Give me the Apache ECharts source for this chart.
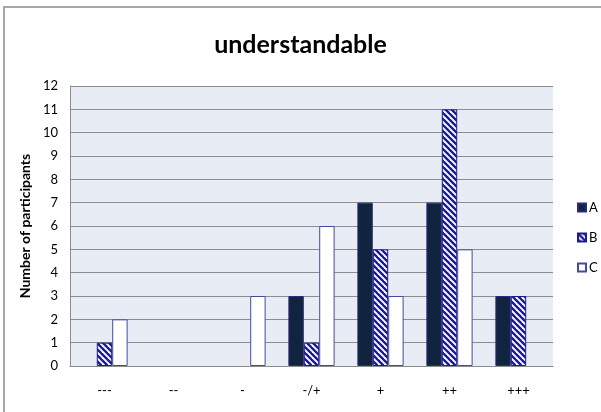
<!DOCTYPE html>
<html>
<head>
<meta charset="utf-8">
<script src="https://cdn.jsdelivr.net/npm/echarts@6/dist/echarts.min.js"></script>
<style>
  html, body { margin: 0; padding: 0; background: #fff; }
  #chart { width: 601px; height: 412px; }
</style>
</head>
<body>
<div id="chart"></div>
<script>
// Ratings on a seven-point scale and the number of participants per group
const categories = ['---', '--', '-', '-/+', '+', '++', '+++'];
const seriesA = [0, 0, 0, 3, 7, 7, 3];
const seriesB = [1, 0, 0, 1, 5, 11, 3];
const seriesC = [2, 0, 3, 6, 3, 5, 0];
const yTicks = [0, 1, 2, 3, 4, 5, 6, 7, 8, 9, 10, 11, 12];

// Diagonal navy/white hatch used for group B
function hatch() {
  const s = 6;
  const c = document.createElement('canvas');
  c.width = s; c.height = s;
  const g = c.getContext('2d');
  g.fillStyle = '#ffffff';
  g.fillRect(0, 0, s, s);
  g.strokeStyle = '#1c1c8e';
  g.lineWidth = 2.4;
  for (const off of [-s, 0, s]) {
    g.beginPath();
    g.moveTo(off - 1, -1);
    g.lineTo(off + s + 1, s + 1);
    g.stroke();
  }
  return { image: c, repeat: 'repeat' };
}

// Zero counts are drawn as no bar at all (no border sliver on the axis)
function toBars(values) {
  return values.map(v => v === 0 ? { value: 0, itemStyle: { borderWidth: 0, opacity: 0 } } : v);
}

const font = 'Lato, "Open Sans", sans-serif';
const chart = echarts.init(document.getElementById('chart'), null, { renderer: 'canvas' });

chart.setOption({
  animation: false,
  backgroundColor: '#ffffff',
  textStyle: { fontFamily: font, color: '#000' },
  title: {
    text: 'understandable',
    left: 'center',
    top: 27,
    textStyle: { fontFamily: font, fontSize: 25, fontWeight: 'bold', color: '#000' }
  },
  // Chart frame; its right and bottom edges run past the page
  graphic: [{
    type: 'rect',
    shape: { x: 4, y: 7, width: 640, height: 440 },
    style: { fill: 'none', stroke: '#a6a6a6', lineWidth: 2 },
    silent: true
  }],
  legend: {
    orient: 'vertical',
    left: 572,
    top: 196,
    itemWidth: 8,
    itemHeight: 8,
    itemGap: 17,
    icon: 'rect',
    textStyle: { fontFamily: font, fontSize: 13, color: '#000', padding: [0, 0, 0, -2] },
    data: ['A', 'B', 'C']
  },
  grid: {
    left: 70, right: 48, top: 86, bottom: 46,
    outerBoundsMode: 'none',
    containLabel: false,
    show: true,
    backgroundColor: '#e8ecf4',
    borderWidth: 0
  },
  xAxis: {
    type: 'category',
    data: categories,
    axisTick: { show: false },
    axisLine: { lineStyle: { color: '#8c8c8c' } },
    axisLabel: { fontFamily: font, fontSize: 13, color: '#000', margin: 18 }
  },
  yAxis: {
    type: 'value',
    min: yTicks[0],
    max: yTicks[yTicks.length - 1],
    interval: 1,
    name: 'Number of participants',
    nameLocation: 'middle',
    nameGap: 33,
    nameTextStyle: { fontFamily: font, fontSize: 14, fontWeight: 'bold', color: '#000' },
    axisLine: { show: true, lineStyle: { color: '#8c8c8c' } },
    axisTick: { show: false },
    splitLine: { lineStyle: { color: '#8c8c8c', width: 1 } },
    axisLabel: { fontFamily: font, fontSize: 13, color: '#000', margin: 12 }
  },
  series: [
    {
      name: 'A', type: 'bar', data: toBars(seriesA),
      barCategoryGap: '33%', barGap: '0%',
      itemStyle: { color: '#10233f', borderColor: '#2b2b7e', borderWidth: 1 }
    },
    {
      name: 'B', type: 'bar', data: toBars(seriesB),
      barCategoryGap: '33%', barGap: '0%',
      itemStyle: { color: hatch(), borderColor: '#1c1c8e', borderWidth: 1 }
    },
    {
      name: 'C', type: 'bar', data: toBars(seriesC),
      barCategoryGap: '33%', barGap: '0%',
      itemStyle: { color: '#ffffff', borderColor: '#4848a0', borderWidth: 1 }
    }
  ]
});
</script>
</body>
</html>
